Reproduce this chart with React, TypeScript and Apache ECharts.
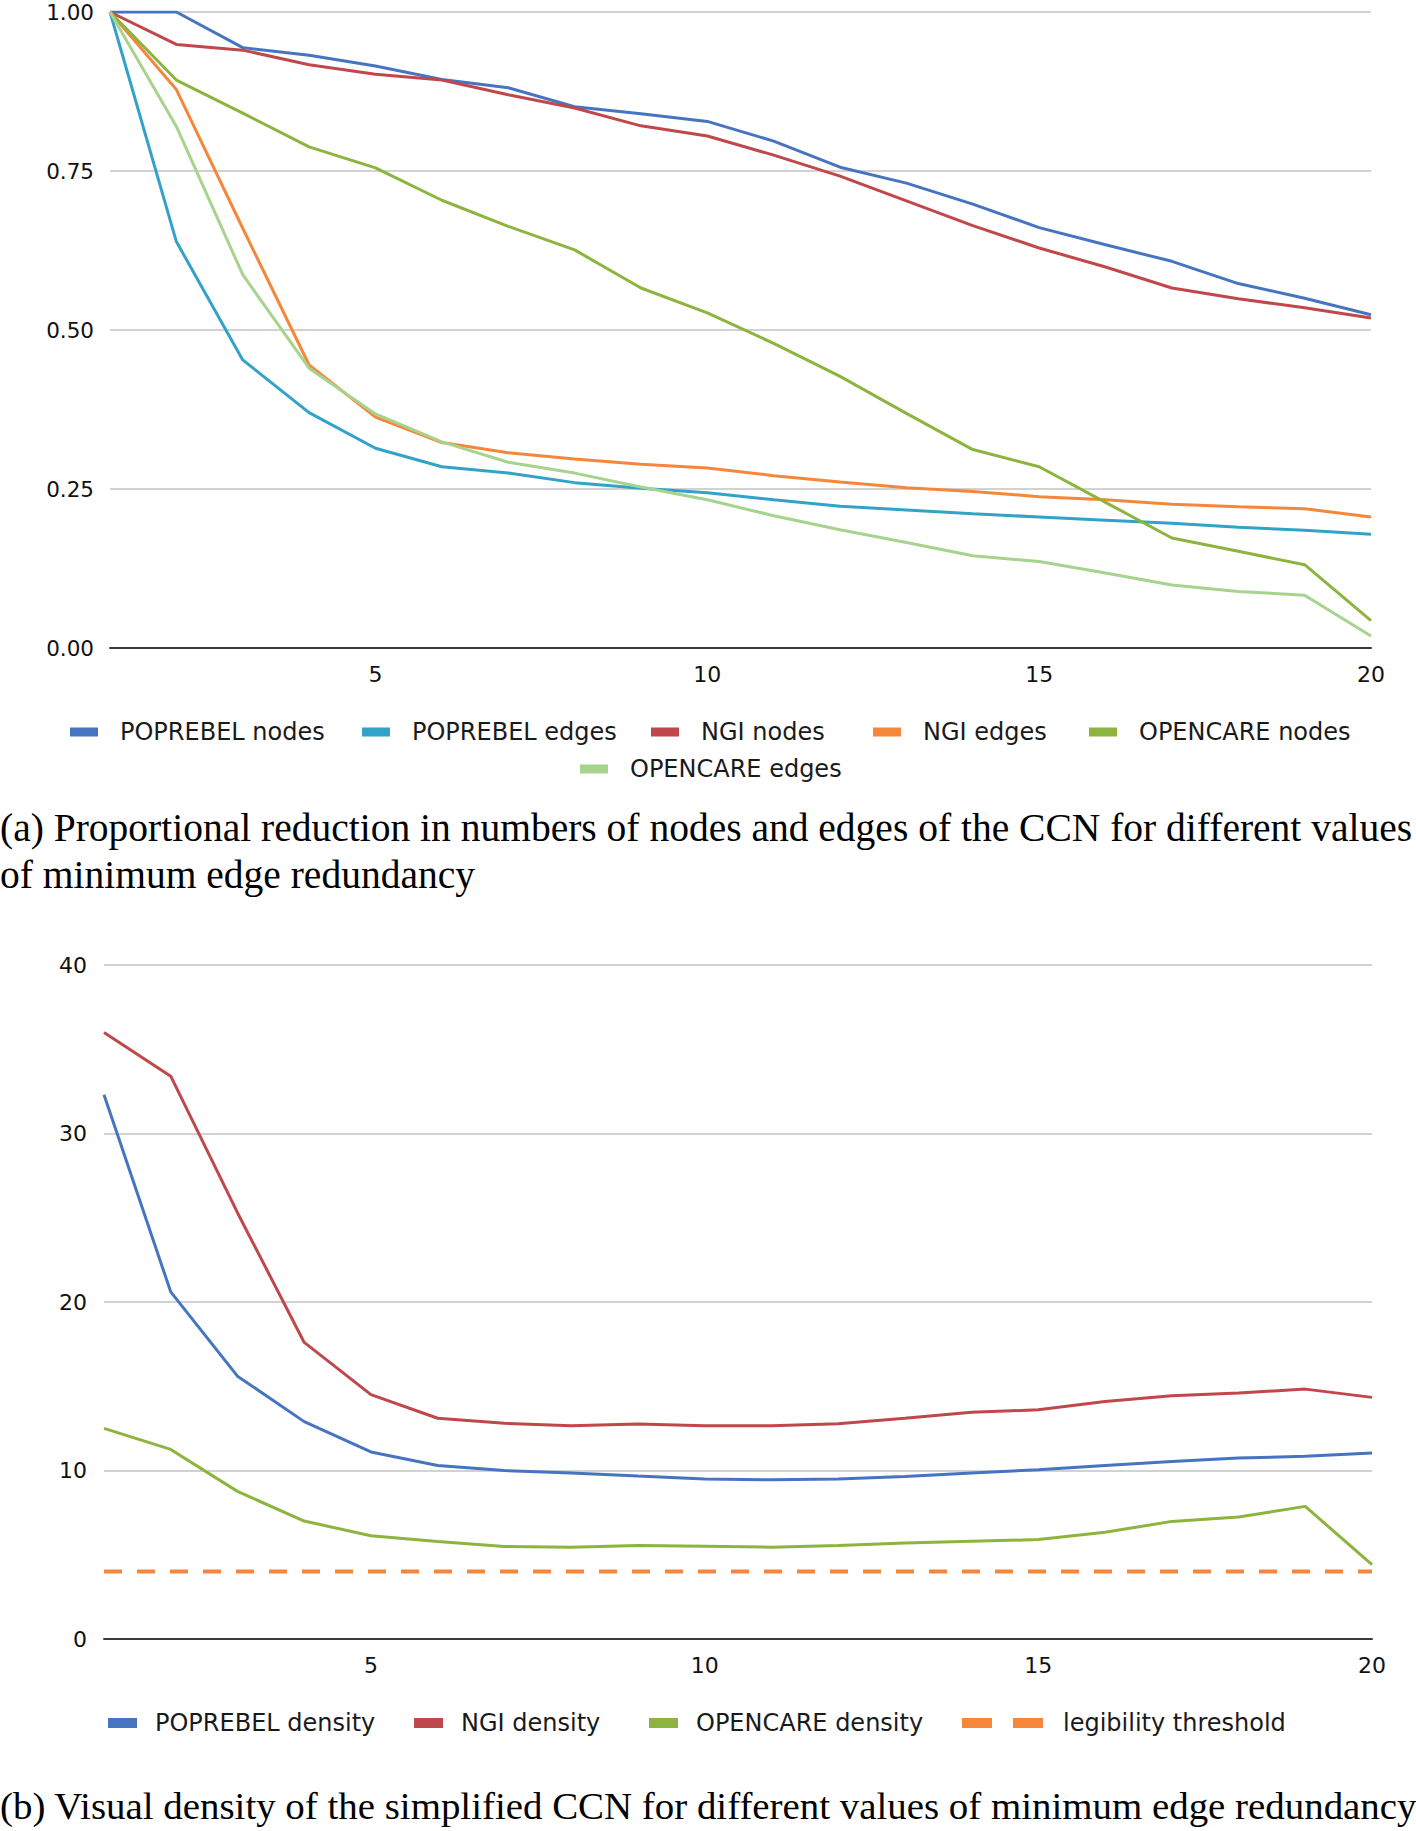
import React, { useEffect, useRef } from "react";
import * as echarts from "echarts";

// ---------- data ----------
const redundancy = ["1","2","3","4","5","6","7","8","9","10","11","12","13","14","15","16","17","18","19","20"];

const poprebelNodes = [1.0, 1.0, 0.944, 0.932, 0.915, 0.894, 0.881, 0.851, 0.840, 0.828, 0.797, 0.756, 0.731, 0.698, 0.661, 0.634, 0.608, 0.573, 0.550, 0.524];
const poprebelEdges = [1.0, 0.639, 0.453, 0.370, 0.314, 0.285, 0.275, 0.260, 0.251, 0.244, 0.233, 0.223, 0.217, 0.211, 0.206, 0.201, 0.196, 0.190, 0.185, 0.179];
const ngiNodes = [1.0, 0.949, 0.940, 0.917, 0.902, 0.893, 0.870, 0.849, 0.821, 0.805, 0.775, 0.742, 0.703, 0.664, 0.629, 0.599, 0.566, 0.549, 0.535, 0.519];
const ngiEdges = [1.0, 0.878, 0.660, 0.445, 0.363, 0.323, 0.307, 0.297, 0.289, 0.283, 0.271, 0.261, 0.252, 0.246, 0.238, 0.233, 0.226, 0.222, 0.219, 0.206];
const opencareNodes = [1.0, 0.893, 0.841, 0.788, 0.755, 0.704, 0.663, 0.626, 0.566, 0.527, 0.479, 0.427, 0.369, 0.312, 0.285, 0.229, 0.173, 0.152, 0.131, 0.043];
const opencareEdges = [1.0, 0.820, 0.587, 0.440, 0.368, 0.324, 0.292, 0.275, 0.253, 0.233, 0.208, 0.186, 0.166, 0.145, 0.136, 0.118, 0.099, 0.089, 0.083, 0.019];

const poprebelDensity = [32.3, 20.6, 15.6, 12.9, 11.1, 10.3, 10.0, 9.85, 9.67, 9.5, 9.45, 9.5, 9.65, 9.85, 10.05, 10.3, 10.54, 10.74, 10.84, 11.04];
const ngiDensity = [36.0, 33.4, 25.3, 17.6, 14.5, 13.1, 12.8, 12.65, 12.76, 12.65, 12.65, 12.78, 13.1, 13.45, 13.6, 14.1, 14.44, 14.6, 14.83, 14.34];
const opencareDensity = [12.5, 11.25, 8.76, 7.0, 6.13, 5.78, 5.49, 5.45, 5.55, 5.5, 5.45, 5.55, 5.7, 5.8, 5.9, 6.33, 6.98, 7.24, 7.87, 4.41];
const legibilityThreshold = [4, 4, 4, 4, 4, 4, 4, 4, 4, 4, 4, 4, 4, 4, 4, 4, 4, 4, 4, 4];

const topTicks = [0, 0.25, 0.5, 0.75, 1.0];
const bottomTicks = [0, 10, 20, 30, 40];

const captionA1 = "(a) Proportional reduction in numbers of nodes and edges of the CCN for different values";
const captionA2 = "of minimum edge redundancy";
const captionB = "(b) Visual density of the simplified CCN for different values of minimum edge redundancy";

// ---------- styles ----------
const C = {
  blue: "#4674C1",
  teal: "#33A2C8",
  red: "#C0474A",
  orange: "#F5873B",
  green: "#8DB43E",
  lightGreen: "#A6D38D",
};
const SANS = "DejaVu Sans";
const SERIF = "Liberation Serif";

export default function App() {
  const ref = useRef<HTMLDivElement>(null);

  useEffect(() => {
    if (!ref.current) return;
    const chart = echarts.init(ref.current, null, { renderer: "svg" });

    const topSeries = [
      { name: "POPREBEL nodes", data: poprebelNodes, color: C.blue },
      { name: "POPREBEL edges", data: poprebelEdges, color: C.teal },
      { name: "NGI nodes", data: ngiNodes, color: C.red },
      { name: "NGI edges", data: ngiEdges, color: C.orange },
      { name: "OPENCARE nodes", data: opencareNodes, color: C.green },
      { name: "OPENCARE edges", data: opencareEdges, color: C.lightGreen },
    ];
    const bottomSeries = [
      { name: "POPREBEL density", data: poprebelDensity, color: C.blue, dash: false },
      { name: "NGI density", data: ngiDensity, color: C.red, dash: false },
      { name: "OPENCARE density", data: opencareDensity, color: C.green, dash: false },
      { name: "legibility threshold", data: legibilityThreshold, color: C.orange, dash: true },
    ];

    const topLegendPos = [
      { left: 70, top: 720 },
      { left: 362, top: 720 },
      { left: 651, top: 720 },
      { left: 873, top: 720 },
      { left: 1089, top: 720 },
      { left: 580, top: 757 },
    ];
    const bottomLegendPos = [
      { left: 108, top: 1711 },
      { left: 414, top: 1711 },
      { left: 649, top: 1711 },
      { left: 962, top: 1711 },
    ];

    const legendText = (pad: number) => ({
      fontSize: 24,
      fontFamily: SANS,
      color: "#1a1a1a",
      padding: [0, 0, 0, pad],
    });

    const legends: any[] = [];
    topSeries.forEach((s, i) => {
      legends.push({
        data: [s.name],
        left: topLegendPos[i].left,
        top: topLegendPos[i].top,
        orient: "horizontal",
        padding: 0,
        itemGap: 0,
        icon: "rect",
        itemWidth: 28,
        itemHeight: 9,
        textStyle: legendText(17),
      });
    });
    bottomSeries.forEach((s, i) => {
      legends.push({
        data: [s.name],
        left: bottomLegendPos[i].left,
        top: bottomLegendPos[i].top,
        orient: "horizontal",
        padding: 0,
        itemGap: 0,
        icon: s.dash ? "path://M0,0h30v10h-30z M51,0h30v10h-30z" : "rect",
        itemWidth: s.dash ? 83 : 29,
        itemHeight: 10,
        textStyle: legendText(s.dash ? 14 : 13),
      });
    });

    const xAxisCommon = (gridIndex: number) => ({
      type: "category",
      gridIndex,
      data: redundancy,
      boundaryGap: false,
      axisTick: { show: false },
      axisLine: { show: true, lineStyle: { color: "#3a3a3a", width: 2 } },
      splitLine: { show: false },
      axisLabel: {
        interval: (idx: number) => (idx + 1) % 5 === 0,
        fontSize: 22,
        fontFamily: SANS,
        color: "#111",
        margin: 15,
      },
    });

    const option: any = {
      animation: false,
      backgroundColor: "#ffffff",
      grid: [
        { left: 110, right: 45, top: 12, height: 636 },
        { left: 104, right: 44, top: 965, height: 674 },
      ],
      xAxis: [xAxisCommon(0), xAxisCommon(1)],
      yAxis: [
        {
          type: "value",
          gridIndex: 0,
          min: topTicks[0],
          max: topTicks[topTicks.length - 1],
          interval: 0.25,
          axisLine: { show: false },
          axisTick: { show: false },
          splitLine: { show: true, lineStyle: { color: "#D2D2D2", width: 2 } },
          axisLabel: {
            formatter: (v: number) => v.toFixed(2),
            fontSize: 21.5,
            fontFamily: SANS,
            color: "#111",
            margin: 16,
          },
        },
        {
          type: "value",
          gridIndex: 1,
          min: bottomTicks[0],
          max: bottomTicks[bottomTicks.length - 1],
          interval: 10,
          axisLine: { show: false },
          axisTick: { show: false },
          splitLine: { show: true, lineStyle: { color: "#D2D2D2", width: 2 } },
          axisLabel: {
            fontSize: 22,
            fontFamily: SANS,
            color: "#111",
            margin: 17,
          },
        },
      ],
      legend: legends,
      series: [
        ...topSeries.map((s) => ({
          type: "line",
          name: s.name,
          xAxisIndex: 0,
          yAxisIndex: 0,
          data: s.data,
          symbol: "none",
          color: s.color,
          itemStyle: { color: s.color },
          lineStyle: { color: s.color, width: 3 },
          z: 3,
        })),
        ...bottomSeries.map((s) => ({
          type: "line",
          name: s.name,
          xAxisIndex: 1,
          yAxisIndex: 1,
          data: s.data,
          symbol: "none",
          color: s.color,
          itemStyle: { color: s.color },
          lineStyle: s.dash
            ? { color: s.color, width: 4, type: [18, 15] }
            : { color: s.color, width: 3 },
          z: s.dash ? 2 : 3,
        })),
      ],
      graphic: [
        {
          type: "text",
          left: 0,
          top: 808,
          style: { text: captionA1, fontSize: 39.5, fontFamily: SERIF, fill: "#000" },
        },
        {
          type: "text",
          left: 0,
          top: 855,
          style: { text: captionA2, fontSize: 39.5, fontFamily: SERIF, fill: "#000" },
        },
        {
          type: "text",
          left: 0,
          top: 1786,
          style: { text: captionB, fontSize: 38.9, fontFamily: SERIF, fill: "#000" },
        },
      ],
    };

    chart.setOption(option);
    return () => {
      chart.dispose();
    };
  }, []);

  return (
    <div
      ref={ref}
      style={{ position: "absolute", left: 0, top: 0, width: 1416, height: 1831, background: "#fff" }}
    />
  );
}
